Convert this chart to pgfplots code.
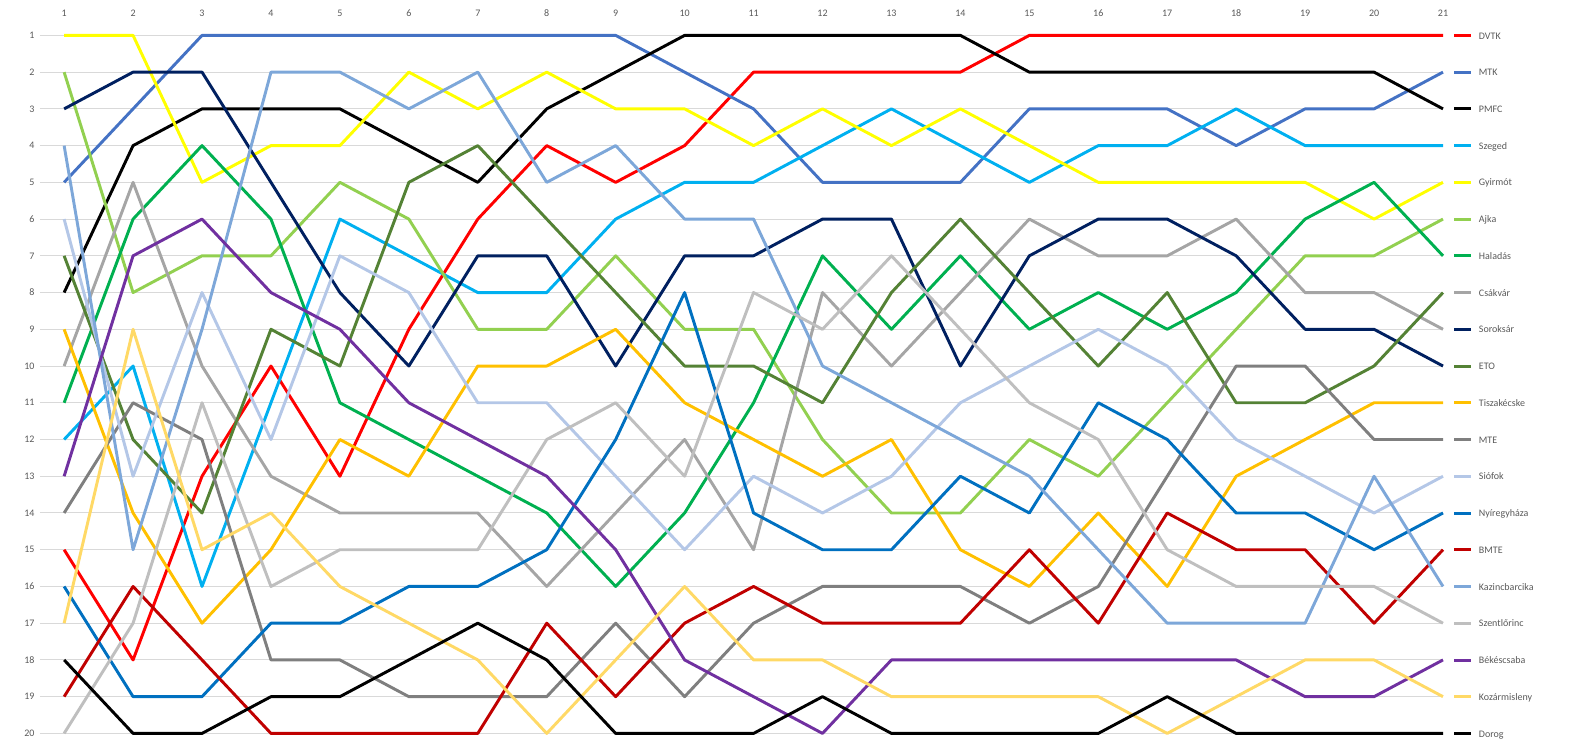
\documentclass[border=0pt]{standalone}
\usepackage{fontspec}
\setmainfont{Carlito}
\usepackage{pgfplots}
\usepackage{pgfplotstable}
\pgfplotsset{compat=1.18}

\definecolor{cDVTK}{HTML}{FF0000}
\definecolor{cMTK}{HTML}{4472C4}
\definecolor{cPMFC}{HTML}{000000}
\definecolor{cSzeged}{HTML}{00B0F0}
\definecolor{cGyirmot}{HTML}{FFFF00}
\definecolor{cAjka}{HTML}{92D050}
\definecolor{cHaladas}{HTML}{00B050}
\definecolor{cCsakvar}{HTML}{A5A5A5}
\definecolor{cSoroksar}{HTML}{002060}
\definecolor{cETO}{HTML}{548235}
\definecolor{cTiszakecske}{HTML}{FFC000}
\definecolor{cMTE}{HTML}{7F7F7F}
\definecolor{cSiofok}{HTML}{B4C7E7}
\definecolor{cNyiregyhaza}{HTML}{0070C0}
\definecolor{cBMTE}{HTML}{C00000}
\definecolor{cKazincbarcika}{HTML}{7DA7D9}
\definecolor{cSzentlorinc}{HTML}{BFBFBF}
\definecolor{cBekescsaba}{HTML}{7030A0}
\definecolor{cKozarmisleny}{HTML}{FFD966}
\definecolor{cDorog}{HTML}{000000}
\definecolor{gridc}{HTML}{D9D9D9}
\definecolor{labc}{HTML}{595959}

\pgfplotstableread{
r  DVTK MTK PMFC Szeged Gyirmot Ajka Haladas Csakvar Soroksar ETO Tiszakecske MTE Siofok Nyiregyhaza BMTE Kazincbarcika Szentlorinc Bekescsaba Kozarmisleny Dorog
1  15 5 8 12 1 2 11 10 3 7 9 14 6 16 19 4 20 13 17 18
2  18 3 4 10 1 8 6 5 2 12 14 11 13 19 16 15 17 7 9 20
3  13 1 3 16 5 7 4 10 2 14 17 12 8 19 18 9 11 6 15 20
4  10 1 3 11 4 7 6 13 5 9 15 18 12 17 20 2 16 8 14 19
5  13 1 3 6 4 5 11 14 8 10 12 18 7 17 20 2 15 9 16 19
6  9 1 4 7 2 6 12 14 10 5 13 19 8 16 20 3 15 11 17 18
7  6 1 5 8 3 9 13 14 7 4 10 19 11 16 20 2 15 12 18 17
8  4 1 3 8 2 9 14 16 7 6 10 19 11 15 17 5 12 13 20 18
9  5 1 2 6 3 7 16 14 10 8 9 17 13 12 19 4 11 15 18 20
10 4 2 1 5 3 9 14 12 7 10 11 19 15 8 17 6 13 18 16 20
11 2 3 1 5 4 9 11 15 7 10 12 17 13 14 16 6 8 19 18 20
12 2 5 1 4 3 12 7 8 6 11 13 16 14 15 17 10 9 20 18 19
13 2 5 1 3 4 14 9 10 6 8 12 16 13 15 17 11 7 18 19 20
14 2 5 1 4 3 14 7 8 10 6 15 16 11 13 17 12 9 18 19 20
15 1 3 2 5 4 12 9 6 7 8 16 17 10 14 15 13 11 18 19 20
16 1 3 2 4 5 13 8 7 6 10 14 16 9 11 17 15 12 18 19 20
17 1 3 2 4 5 11 9 7 6 8 16 13 10 12 14 17 15 18 20 19
18 1 4 2 3 5 9 8 6 7 11 13 10 12 14 15 17 16 18 19 20
19 1 3 2 4 5 7 6 8 9 11 12 10 13 14 15 17 16 19 18 20
20 1 3 2 4 6 7 5 8 9 10 11 12 14 15 17 13 16 19 18 20
21 1 2 3 4 5 6 7 9 10 8 11 12 13 14 15 16 17 18 19 20
}\ranks

\begin{document}
\begin{tikzpicture}
\begin{axis}[
  scale only axis,
  width=1052.25pt, height=523.5pt,
  xmin=0.65, xmax=21, ymin=1, ymax=20,
  y dir=reverse,
  xtick={1,...,21}, ytick={1,...,20},
  xticklabel pos=upper,
  axis line style={draw=none},
  major tick length=0pt,
  ymajorgrids, xmajorgrids=false,
  grid style={gridc, line width=0.75pt},
  /pgf/number format/assume math mode=true,
  tick label style={font=\fontsize{7.5}{9}\selectfont, text=labc},
  xticklabel style={anchor=south, inner sep=0pt, yshift=14pt},
  yticklabel style={anchor=east, inner sep=0pt, xshift=-4pt},
  clip=false,
  every axis plot/.append style={line width=2.2pt, line join=round, no markers},
  legend cell align=left,
  legend image code/.code={\draw[#1] (0pt,0pt) -- (12.75pt,0pt);},
  legend style={draw=none, fill=none, at={(axis cs:21,1)}, anchor=north west,
    xshift=7.5pt, yshift=3.7pt, inner sep=0pt, outer sep=0pt,
    row sep=20.16pt, column sep=4.5pt,
    font=\fontsize{7.5}{9}\selectfont, text=labc,
    nodes={inner sep=0pt, text height=6.4pt, text depth=1pt}},
]
\addplot[cDVTK] table[x=r,y=DVTK]{\ranks}; \addlegendentry{DVTK}
\addplot[cMTK] table[x=r,y=MTK]{\ranks}; \addlegendentry{MTK}
\addplot[cPMFC] table[x=r,y=PMFC]{\ranks}; \addlegendentry{PMFC}
\addplot[cSzeged] table[x=r,y=Szeged]{\ranks}; \addlegendentry{Szeged}
\addplot[cGyirmot] table[x=r,y=Gyirmot]{\ranks}; \addlegendentry{Gyirmót}
\addplot[cAjka] table[x=r,y=Ajka]{\ranks}; \addlegendentry{Ajka}
\addplot[cHaladas] table[x=r,y=Haladas]{\ranks}; \addlegendentry{Haladás}
\addplot[cCsakvar] table[x=r,y=Csakvar]{\ranks}; \addlegendentry{Csákvár}
\addplot[cSoroksar] table[x=r,y=Soroksar]{\ranks}; \addlegendentry{Soroksár}
\addplot[cETO] table[x=r,y=ETO]{\ranks}; \addlegendentry{ETO}
\addplot[cTiszakecske] table[x=r,y=Tiszakecske]{\ranks}; \addlegendentry{Tiszakécske}
\addplot[cMTE] table[x=r,y=MTE]{\ranks}; \addlegendentry{MTE}
\addplot[cSiofok] table[x=r,y=Siofok]{\ranks}; \addlegendentry{Siófok}
\addplot[cNyiregyhaza] table[x=r,y=Nyiregyhaza]{\ranks}; \addlegendentry{Nyíregyháza}
\addplot[cBMTE] table[x=r,y=BMTE]{\ranks}; \addlegendentry{BMTE}
\addplot[cKazincbarcika] table[x=r,y=Kazincbarcika]{\ranks}; \addlegendentry{Kazincbarcika}
\addplot[cSzentlorinc] table[x=r,y=Szentlorinc]{\ranks}; \addlegendentry{Szentlőrinc}
\addplot[cBekescsaba] table[x=r,y=Bekescsaba]{\ranks}; \addlegendentry{Békéscsaba}
\addplot[cKozarmisleny] table[x=r,y=Kozarmisleny]{\ranks}; \addlegendentry{Kozármisleny}
\addplot[cDorog] table[x=r,y=Dorog]{\ranks}; \addlegendentry{Dorog}
\end{axis}
\pgfresetboundingbox
\path[use as bounding box] ([xshift=-30pt,yshift=-8.7pt]current axis.south west) rectangle ([xshift=105.75pt,yshift=26.55pt]current axis.north east);
\end{tikzpicture}
\end{document}
